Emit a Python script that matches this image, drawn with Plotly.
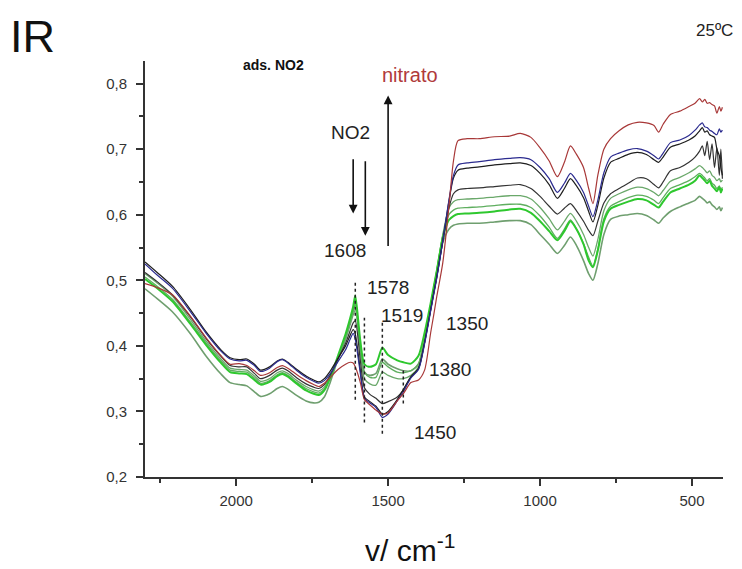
import plotly.graph_objects as go

# Wavenumber grid (cm-1)
wavenumber = [2300, 2260, 2210, 2150, 2100, 2050, 2020, 1990, 1965, 1940,
              1920, 1890, 1865, 1848, 1830, 1800, 1770, 1745, 1728, 1710,
              1690, 1665, 1640, 1625, 1615, 1608, 1592, 1578, 1560, 1540,
              1519, 1500, 1470, 1450, 1425, 1400, 1380, 1360, 1350, 1340,
              1320, 1300, 1285, 1270, 1240, 1200, 1150, 1100, 1065, 1030,
              1000, 970, 943, 920, 900, 880, 857, 840, 826, 810,
              790, 768, 740, 710, 680, 650, 625, 610, 595, 571,
              540, 510, 490, 475, 466, 458, 450, 442, 434, 426, 418, 410, 405, 400]

red_nitrato = [0.495, 0.489, 0.478, 0.445, 0.413, 0.385, 0.372, 0.373, 0.370, 0.362,
               0.355, 0.359, 0.367, 0.370, 0.366, 0.356, 0.347, 0.341, 0.338, 0.343,
               0.352, 0.364, 0.372, 0.375, 0.374, 0.368, 0.345, 0.318, 0.310, 0.302,
               0.296, 0.298, 0.316, 0.327, 0.344, 0.348, 0.363, 0.420, 0.447, 0.475,
               0.527, 0.612, 0.682, 0.713, 0.716, 0.716, 0.719, 0.720, 0.724, 0.718,
               0.702, 0.682, 0.658, 0.680, 0.705, 0.692, 0.672, 0.640, 0.617, 0.660,
               0.700, 0.716, 0.728, 0.737, 0.741, 0.740, 0.736, 0.726, 0.738, 0.753,
               0.758, 0.765, 0.770, 0.777, 0.772, 0.776, 0.770, 0.771, 0.768, 0.766, 0.755, 0.765, 0.758, 0.764]

blue = [0.525, 0.508, 0.488, 0.452, 0.420, 0.392, 0.380, 0.377, 0.378, 0.370,
        0.361, 0.366, 0.376, 0.379, 0.374, 0.362, 0.352, 0.346, 0.343, 0.347,
        0.358, 0.376, 0.394, 0.410, 0.419, 0.410, 0.360, 0.320, 0.313, 0.306,
        0.291, 0.296, 0.316, 0.330, 0.351, 0.364, 0.403, 0.453, 0.478, 0.503,
        0.560, 0.622, 0.660, 0.676, 0.679, 0.681, 0.684, 0.686, 0.687, 0.684,
        0.672, 0.655, 0.634, 0.648, 0.663, 0.652, 0.634, 0.613, 0.597, 0.622,
        0.664, 0.688, 0.694, 0.699, 0.701, 0.697, 0.690, 0.685, 0.694, 0.710,
        0.714, 0.721, 0.729, 0.737, 0.740, 0.734, 0.733, 0.729, 0.727, 0.724, 0.722, 0.731, 0.726, 0.729]

black_a = [0.528, 0.512, 0.491, 0.455, 0.422, 0.394, 0.382, 0.379, 0.380, 0.372,
           0.363, 0.368, 0.377, 0.380, 0.375, 0.364, 0.354, 0.348, 0.345, 0.350,
           0.362, 0.381, 0.400, 0.416, 0.425, 0.418, 0.365, 0.322, 0.315, 0.308,
           0.296, 0.300, 0.318, 0.333, 0.353, 0.366, 0.405, 0.455, 0.480, 0.505,
           0.560, 0.620, 0.656, 0.668, 0.671, 0.673, 0.676, 0.678, 0.679, 0.675,
           0.663, 0.646, 0.625, 0.640, 0.655, 0.644, 0.626, 0.605, 0.589, 0.614,
           0.656, 0.680, 0.686, 0.692, 0.695, 0.692, 0.684, 0.680, 0.688, 0.703,
           0.708, 0.714, 0.720, 0.728, 0.733, 0.726, 0.728, 0.722, 0.720, 0.718, 0.700, 0.690, 0.672, 0.660]

black_b = [0.512, 0.498, 0.478, 0.444, 0.412, 0.384, 0.370, 0.368, 0.368, 0.358,
           0.350, 0.355, 0.363, 0.366, 0.362, 0.351, 0.342, 0.337, 0.335, 0.341,
           0.356, 0.380, 0.404, 0.423, 0.435, 0.438, 0.380, 0.336, 0.326, 0.320,
           0.312, 0.315, 0.322, 0.333, 0.352, 0.365, 0.405, 0.455, 0.480, 0.505,
           0.560, 0.610, 0.632, 0.638, 0.640, 0.641, 0.643, 0.645, 0.646, 0.640,
           0.628, 0.613, 0.601, 0.610, 0.617, 0.606, 0.590, 0.576, 0.568, 0.590,
           0.618, 0.632, 0.640, 0.648, 0.656, 0.655, 0.646, 0.641, 0.650, 0.667,
           0.672, 0.680, 0.688, 0.697, 0.705, 0.690, 0.712, 0.684, 0.708, 0.672, 0.702, 0.660, 0.700, 0.655]

green_a = [0.510, 0.496, 0.476, 0.440, 0.408, 0.380, 0.366, 0.364, 0.363, 0.354,
           0.346, 0.350, 0.359, 0.362, 0.358, 0.347, 0.338, 0.333, 0.331, 0.337,
           0.354, 0.382, 0.410, 0.432, 0.447, 0.455, 0.395, 0.350, 0.342, 0.340,
           0.360, 0.355, 0.350, 0.350, 0.355, 0.368, 0.410, 0.462, 0.488, 0.515,
           0.570, 0.610, 0.620, 0.623, 0.624, 0.625, 0.627, 0.629, 0.629, 0.624,
           0.611, 0.594, 0.577, 0.590, 0.602, 0.590, 0.570, 0.550, 0.537, 0.562,
           0.606, 0.625, 0.632, 0.638, 0.642, 0.640, 0.634, 0.629, 0.637, 0.651,
           0.657, 0.664, 0.670, 0.675, 0.672, 0.668, 0.664, 0.667, 0.660, 0.657, 0.652, 0.655, 0.650, 0.653]

green_b = [0.505, 0.491, 0.471, 0.436, 0.405, 0.377, 0.363, 0.361, 0.360, 0.351,
           0.343, 0.347, 0.356, 0.359, 0.355, 0.344, 0.335, 0.330, 0.328, 0.334,
           0.352, 0.382, 0.412, 0.436, 0.452, 0.464, 0.405, 0.360, 0.352, 0.352,
           0.375, 0.368, 0.360, 0.359, 0.362, 0.373, 0.413, 0.463, 0.488, 0.514,
           0.568, 0.600, 0.607, 0.610, 0.611, 0.612, 0.614, 0.616, 0.616, 0.611,
           0.598, 0.581, 0.564, 0.578, 0.592, 0.578, 0.556, 0.535, 0.522, 0.548,
           0.594, 0.613, 0.620, 0.626, 0.630, 0.628, 0.622, 0.617, 0.626, 0.640,
           0.646, 0.652, 0.658, 0.663, 0.660, 0.656, 0.652, 0.655, 0.648, 0.645, 0.640, 0.644, 0.638, 0.642]

green_bright = [0.502, 0.488, 0.468, 0.433, 0.402, 0.374, 0.360, 0.358, 0.357, 0.348,
                0.341, 0.345, 0.354, 0.357, 0.353, 0.342, 0.332, 0.327, 0.325, 0.332,
                0.352, 0.385, 0.418, 0.442, 0.460, 0.477, 0.410, 0.372, 0.368, 0.372,
                0.397, 0.386, 0.378, 0.375, 0.373, 0.385, 0.420, 0.465, 0.490, 0.514,
                0.565, 0.592, 0.598, 0.601, 0.602, 0.603, 0.605, 0.608, 0.609, 0.603,
                0.590, 0.575, 0.561, 0.575, 0.590, 0.578, 0.555, 0.530, 0.520, 0.545,
                0.590, 0.609, 0.615, 0.620, 0.624, 0.622, 0.615, 0.611, 0.620, 0.634,
                0.640, 0.646, 0.652, 0.660, 0.656, 0.652, 0.648, 0.652, 0.644, 0.640, 0.636, 0.642, 0.634, 0.640]

green_low = [0.487, 0.472, 0.452, 0.418, 0.385, 0.357, 0.344, 0.341, 0.339, 0.330,
             0.323, 0.327, 0.335, 0.338, 0.334, 0.324, 0.316, 0.313, 0.314, 0.322,
             0.345, 0.380, 0.412, 0.437, 0.455, 0.470, 0.400, 0.360, 0.355, 0.358,
             0.380, 0.372, 0.365, 0.362, 0.362, 0.372, 0.410, 0.458, 0.483, 0.508,
             0.558, 0.578, 0.584, 0.586, 0.587, 0.587, 0.589, 0.591, 0.591, 0.585,
             0.570, 0.555, 0.541, 0.553, 0.566, 0.553, 0.530, 0.510, 0.500, 0.525,
             0.570, 0.593, 0.598, 0.600, 0.602, 0.599, 0.592, 0.587, 0.595, 0.605,
             0.612, 0.618, 0.622, 0.628, 0.625, 0.622, 0.618, 0.620, 0.615, 0.612, 0.608, 0.612, 0.606, 0.611]

x_tick_vals = [2000, 1500, 1000, 500]
x_tick_text = ["2000", "1500", "1000", "500"]
y_tick_vals = [0.2, 0.3, 0.4, 0.5, 0.6, 0.7, 0.8]
y_tick_text = ["0,2", "0,3", "0,4", "0,5", "0,6", "0,7", "0,8"]

peak_positions = [1608, 1578, 1519, 1450]
peak_line_top = [0.500, 0.443, 0.439, 0.363]
peak_line_bottom = [0.318, 0.283, 0.266, 0.312]

series = [
    ("green_low", green_low, "#6f9f6f", 1.6),
    ("green_b", green_b, "#5fae5f", 1.3),
    ("green_a", green_a, "#6aa86a", 1.3),
    ("green_bright", green_bright, "#2ec82e", 2.0),
    ("black_b", black_b, "#333333", 1.2),
    ("black_a", black_a, "#1e1e1e", 1.2),
    ("blue", blue, "#2b2b8f", 1.2),
    ("red_nitrato", red_nitrato, "#a83838", 1.2),
]

fig = go.Figure()
for name, vals, color, w in series:
    fig.add_trace(go.Scatter(x=wavenumber, y=vals, mode="lines", name=name,
                             line=dict(color=color, width=w, shape="spline", smoothing=0.7),
                             showlegend=False))

# dotted peak markers
for wn, y0, y1 in zip(peak_positions, peak_line_bottom, peak_line_top):
    fig.add_shape(type="line", xref="x", yref="y", x0=wn, x1=wn, y0=y0, y1=y1,
                  line=dict(color="#222222", width=1.5, dash="dot"))

font_fam = "Liberation Sans, Arial, sans-serif"
ann = []
txt = dict(color="#222222", size=19, family=font_fam)
ann.append(dict(x=1641, y=0.546, text="1608", showarrow=False, font=txt))
ann.append(dict(x=1500, y=0.489, text="1578", showarrow=False, font=txt))
ann.append(dict(x=1453, y=0.446, text="1519", showarrow=False, font=txt))
ann.append(dict(x=1239, y=0.434, text="1350", showarrow=False, font=txt))
ann.append(dict(x=1295, y=0.364, text="1380", showarrow=False, font=txt))
ann.append(dict(x=1345, y=0.268, text="1450", showarrow=False, font=txt))
ann.append(dict(x=1625, y=0.725, text="NO2", showarrow=False, font=txt))
ann.append(dict(x=1427, y=0.813, text="nitrato", showarrow=False,
                font=dict(color="#b03a3a", size=20, family=font_fam)))
ann.append(dict(x=1878, y=0.829, text="<b>ads. NO2</b>", showarrow=False,
                font=dict(color="#111111", size=14, family=font_fam)))
# arrows
for (xa, ya, xb, yb) in [(1500, 0.55, 1500, 0.782), (1615, 0.687, 1615, 0.602), (1575, 0.684, 1575, 0.568)]:
    ann.append(dict(x=xb, y=yb, ax=xa, ay=ya, axref="x", ayref="y", xref="x", yref="y",
                    showarrow=True, arrowhead=2, arrowsize=1.1, arrowwidth=1.6,
                    arrowcolor="#111111", text=""))
# outer texts
ann.append(dict(xref="paper", yref="paper", x=-0.237, y=1.125, xanchor="left", yanchor="top",
                text="IR", showarrow=False, font=dict(size=45, color="#111111", family=font_fam)))
ann.append(dict(xref="paper", yref="paper", x=1.021, y=1.074, xanchor="right", yanchor="middle",
                text="25ºC", showarrow=False, font=dict(size=17, color="#222222", family=font_fam)))
ann.append(dict(xref="paper", yref="paper", x=0.458, y=-0.171, xanchor="center", yanchor="middle",
                text="v/ cm<sup>-1</sup>", showarrow=False, font=dict(size=30, color="#111111", family=font_fam)))
for a in ann:
    a.setdefault("xref", "x")
    a.setdefault("yref", "y")
fig.update_layout(annotations=ann)

axis_common = dict(showline=True, linecolor="#333333", linewidth=2, ticks="outside",
                   ticklen=7, tickwidth=2, tickcolor="#333333", showgrid=False, zeroline=False,
                   tickfont=dict(size=15, color="#333333", family=font_fam))
fig.update_xaxes(range=[2300, 398], tickvals=x_tick_vals, ticktext=x_tick_text,
                 ticklabelstandoff=2,
                 minor=dict(ticks="outside", tick0=0, dtick=250, ticklen=4, tickwidth=1.5,
                            tickcolor="#333333"), **axis_common)
fig.update_yaxes(range=[0.2, 0.8345], tickvals=y_tick_vals, ticktext=y_tick_text,
                 ticklabelstandoff=6,
                 minor=dict(ticks="outside", tick0=0, dtick=0.05, ticklen=4, tickwidth=1.5,
                            tickcolor="#333333"), **axis_common)

# page body adds an 8px offset, so margins are shifted to place the plot area like the reference
fig.update_layout(width=742, height=569, margin=dict(l=137, r=27, t=53, b=100),
                  plot_bgcolor="white", paper_bgcolor="white", showlegend=False)

fig.write_html("out.html")
